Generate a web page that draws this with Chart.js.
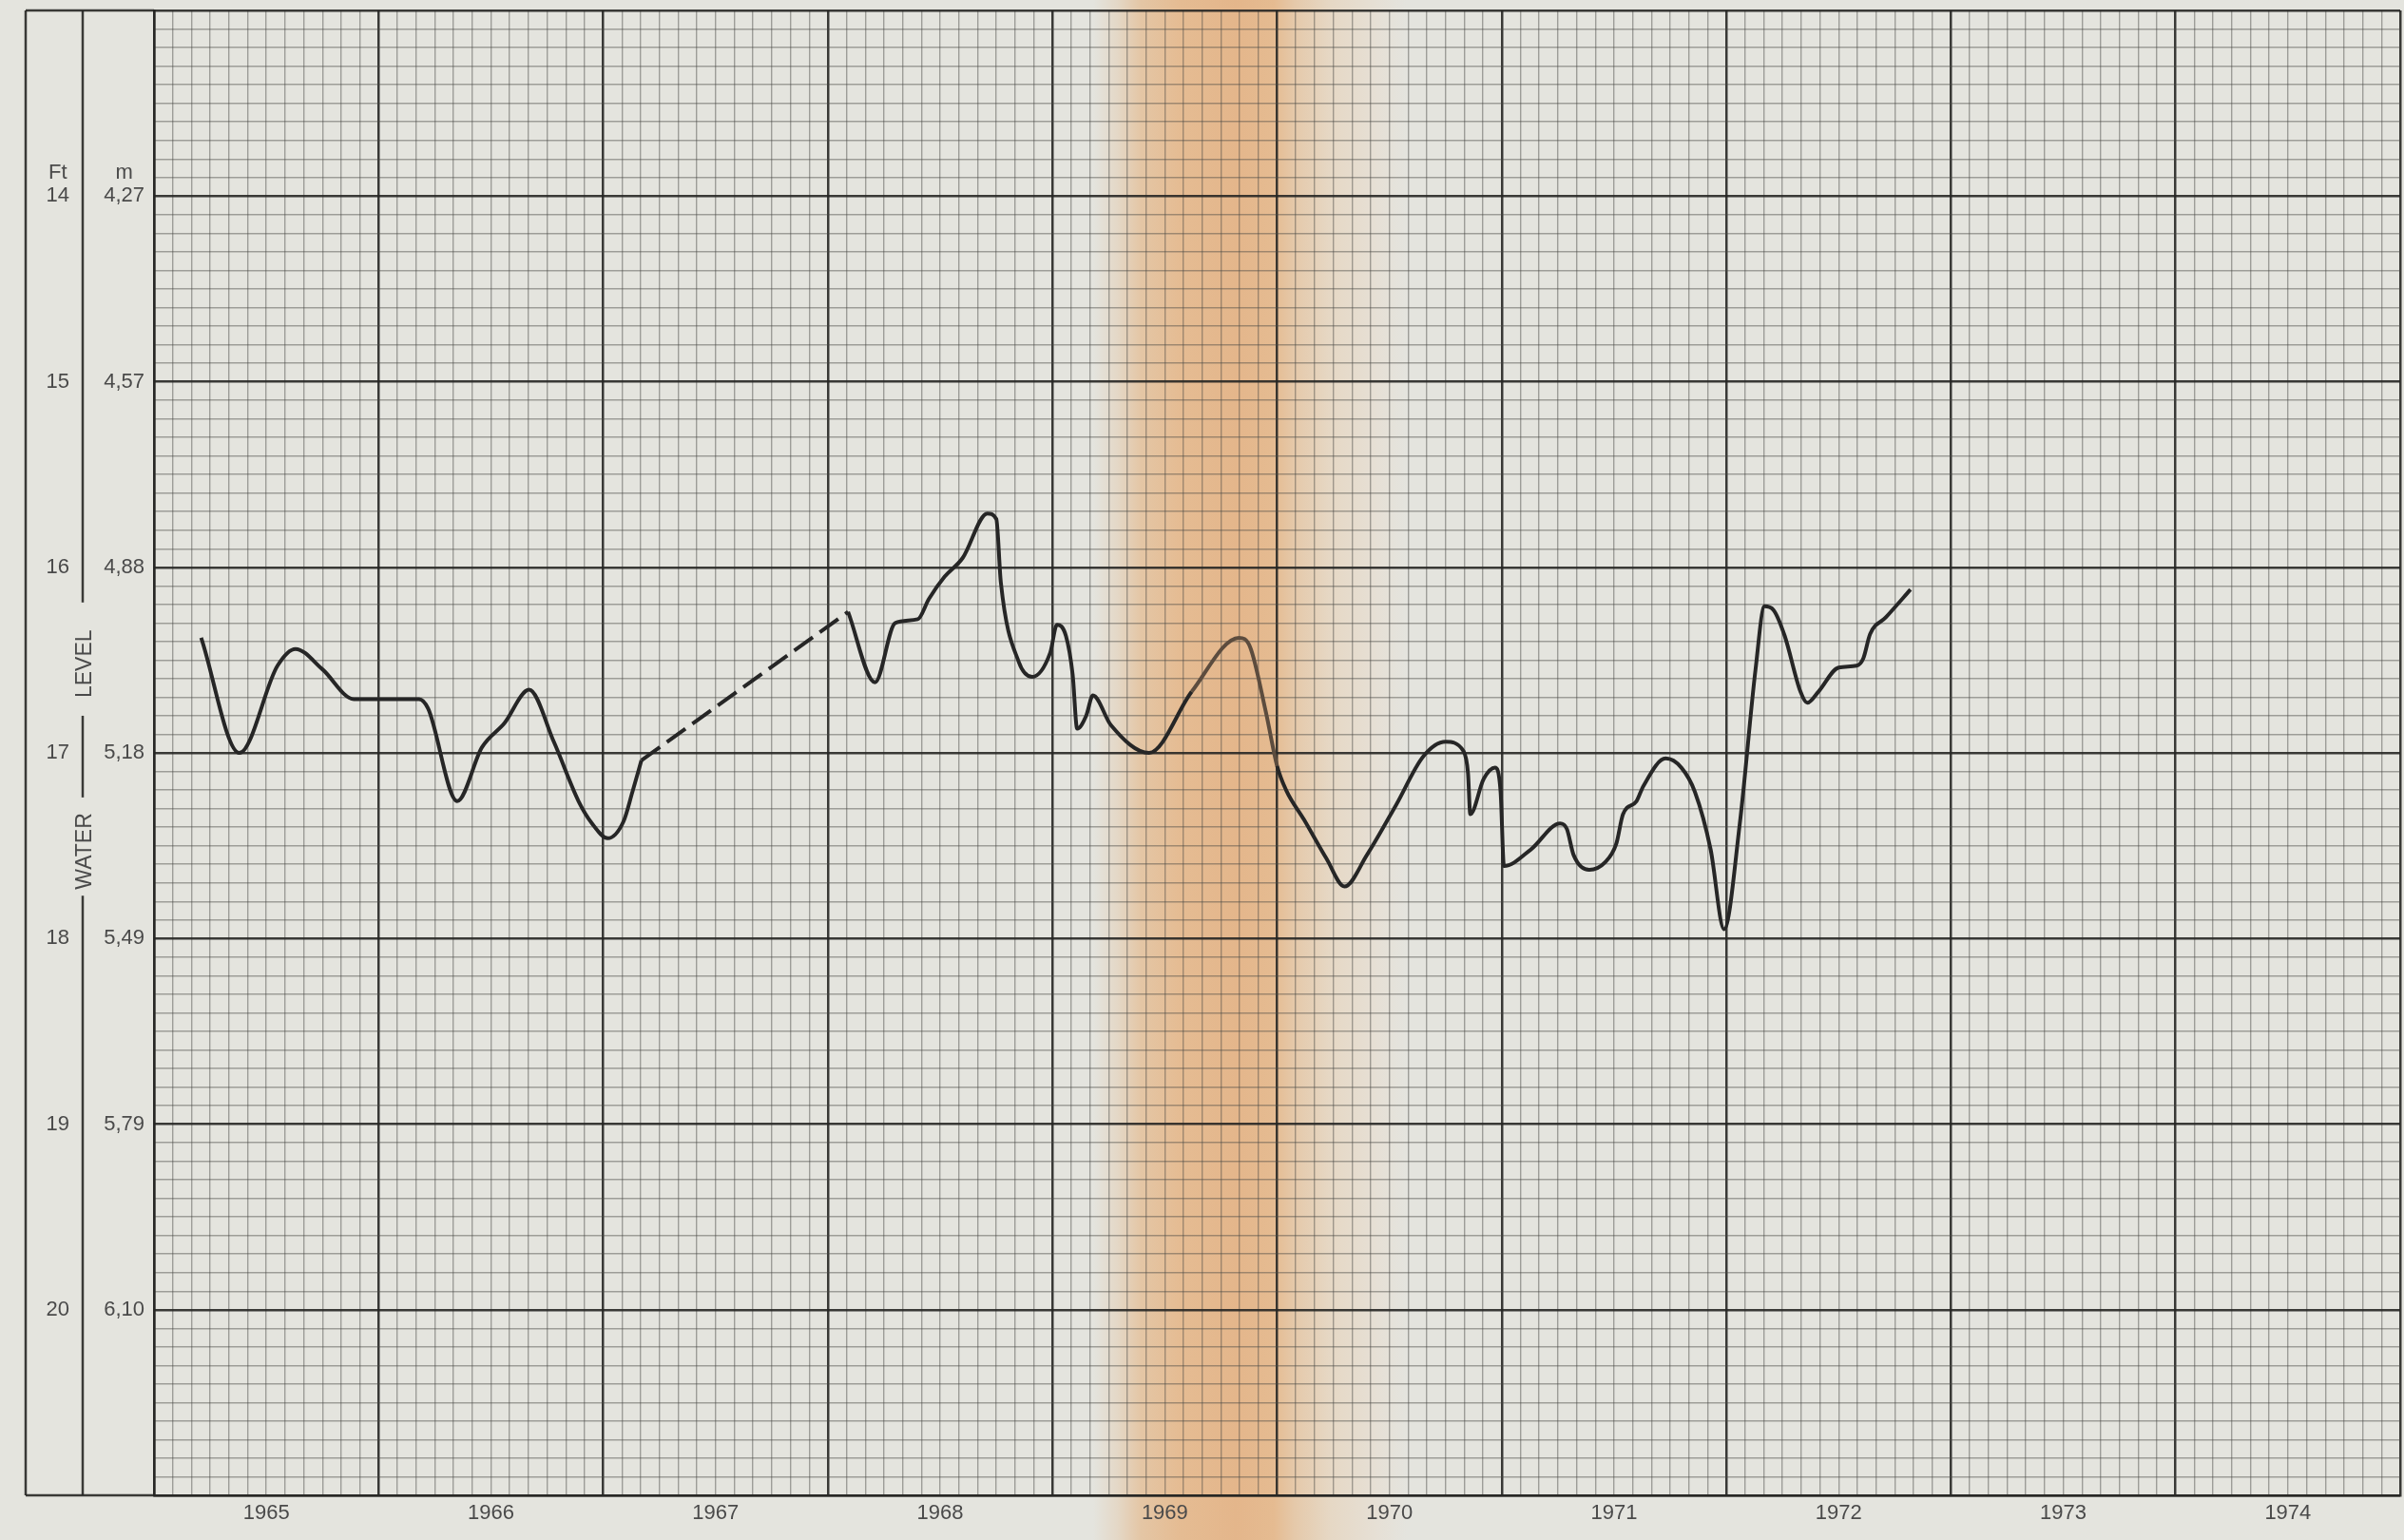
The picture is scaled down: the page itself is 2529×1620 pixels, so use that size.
<!DOCTYPE html>
<html>
<head>
<meta charset="utf-8">
<script src="https://cdn.jsdelivr.net/npm/chart.js@4.4.1/dist/chart.umd.min.js"></script>
<style>
  html, body { margin: 0; padding: 0; background: #e4e4de; }
  #wrap { width: 2529px; height: 1620px; }
  canvas {
    display: block;
    background: linear-gradient(to right,
      #e4e4de 0px, #e4e4de 1150px, #e4d8c7 1175px, #e4c6a5 1200px,
      #e5bc93 1240px, #e4b68b 1300px, #e5bb91 1340px, #e5c9aa 1362px,
      #e6d8c5 1400px, #e6e0d6 1450px, #e4e4de 1480px, #e4e4de 2529px);
  }
</style>
</head>
<body>
<div id="wrap"><canvas id="hydro" width="2529" height="1620"></canvas></div>
<script>
// year labels sit in the middle of each year band
const yearLabels = ["1965", "1966", "1967", "1968", "1969", "1970", "1971", "1972", "1973", "1974"];
// depth to water, feet (14..20) and the metric equivalents
const ftLabels = ["14", "15", "16", "17", "18", "19", "20"];
const mLabels = ["4,27", "4,57", "4,88", "5,18", "5,49", "5,79", "6,10"];

// measured record 1965-1967
const yearsA = [1965.21, 1965.38, 1965.55, 1965.63, 1965.75, 1965.89, 1966.18, 1966.22, 1966.35, 1966.46,
  1966.56, 1966.67, 1966.78, 1966.89, 1966.95, 1967.02, 1967.09, 1967.13, 1967.17];
const depthA = [16.38, 17.00, 16.53, 16.44, 16.55, 16.71, 16.71, 16.76, 17.26, 16.97,
  16.84, 16.66, 16.94, 17.26, 17.38, 17.46, 17.37, 17.21, 17.04];

// gap in the record (drawn dashed)
const yearsGap = [1967.17, 1968.09];
const depthGap = [17.04, 16.24];

// measured record 1968-1972
const yearsB = [1968.09, 1968.21, 1968.30, 1968.40, 1968.45, 1968.52, 1968.60, 1968.71, 1968.75, 1968.77,
  1968.85, 1968.91, 1968.99, 1969.02, 1969.06, 1969.09, 1969.11, 1969.15, 1969.18, 1969.26,
  1969.43, 1969.62, 1969.83, 1969.88, 1969.95, 1970.00, 1970.04, 1970.12, 1970.22, 1970.30,
  1970.40, 1970.53, 1970.65, 1970.75, 1970.83, 1970.85, 1970.86, 1970.92, 1970.97, 1970.995,
  1971.01, 1971.13, 1971.26, 1971.29, 1971.32, 1971.39, 1971.46, 1971.51, 1971.54, 1971.60,
  1971.63, 1971.73, 1971.80, 1971.86, 1971.93, 1971.99, 1972.06, 1972.13, 1972.17, 1972.21,
  1972.26, 1972.33, 1972.36, 1972.41, 1972.50, 1972.58, 1972.61, 1972.64, 1972.71, 1972.82];
const depthB = [16.24, 16.62, 16.30, 16.28, 16.17, 16.05, 15.95, 15.71, 15.74, 16.08,
  16.51, 16.59, 16.46, 16.31, 16.37, 16.58, 16.87, 16.80, 16.69, 16.85,
  17.00, 16.67, 16.38, 16.43, 16.78, 17.07, 17.20, 17.36, 17.57, 17.72,
  17.55, 17.28, 17.02, 16.94, 16.99, 17.11, 17.33, 17.14, 17.08, 17.21,
  17.61, 17.52, 17.38, 17.41, 17.55, 17.63, 17.59, 17.49, 17.33, 17.26,
  17.18, 17.03, 17.08, 17.21, 17.52, 17.95, 17.38, 16.55, 16.21, 16.23,
  16.37, 16.67, 16.73, 16.67, 16.54, 16.53, 16.49, 16.36, 16.27, 16.12];

const pts = (xs, ys) => xs.map((x, i) => ({ x: x, y: ys[i] }));

const minorGrid = "rgba(70,70,66,0.45)";
const majorGrid = "rgba(38,38,36,0.9)";
const inkColor = "#262626";
const textColor = "#4a4a4a";
const labelFont = { family: "'Liberation Sans', Arial, sans-serif", size: 22 };

const tenthTicks = scale => {
    scale.ticks = [];
    for (let k = 0; k <= 80; k++) scale.ticks.push({ value: 13 + k / 10 });
};
// empty end labels must not push the plot area inwards
const noEdgePadding = scale => {
    scale.paddingTop = 0;
    scale.paddingBottom = 0;
    scale.paddingLeft = 0;
    scale.paddingRight = 0;
};

// left panel: frame, divider with the rotated title, column heads
const panelPlugin = {
    id: "panel",
    afterDraw(chart) {
        const { ctx, chartArea } = chart;
        const ft = chart.scales.y;
        const yAt = v => ft.getPixelForValue(v);
        const seg = (x1, y1, x2, y2) => {
            ctx.beginPath(); ctx.moveTo(x1, y1); ctx.lineTo(x2, y2); ctx.stroke();
        };
        ctx.save();
        ctx.strokeStyle = majorGrid;
        ctx.lineWidth = 2.5;
        seg(ft.left, chartArea.top, ft.left, chartArea.bottom);
        seg(ft.left, chartArea.top, chartArea.left, chartArea.top);
        seg(ft.left, chartArea.bottom, chartArea.left, chartArea.bottom);

        const dx = ft.right;
        [[13, 16.19], [16.80, 17.24], [17.77, 21]].forEach(r => seg(dx, yAt(r[0]), dx, yAt(r[1])));

        ctx.fillStyle = textColor;
        ctx.font = "23px 'Liberation Sans', Arial, sans-serif";
        ctx.textAlign = "center";
        ctx.textBaseline = "middle";
        [["LEVEL", 16.52], ["WATER", 17.53]].forEach(t => {
            ctx.save();
            ctx.translate(dx + 3, yAt(t[1]));
            ctx.rotate(-Math.PI / 2);
            ctx.fillText(t[0], 0, 0);
            ctx.restore();
        });

        ctx.font = "22px 'Liberation Sans', Arial, sans-serif";
        const m = chart.scales.m;
        const ftCenter = ft.right - 14 - ctx.measureText("20").width / 2;
        const mCenter = m.right - 10 - ctx.measureText("4,27").width / 2;
        ctx.fillText("Ft", ftCenter, yAt(14) - 24);
        ctx.fillText("m", mCenter, yAt(14) - 24);
        ctx.restore();
    }
};

new Chart(document.getElementById("hydro"), {
    type: "line",
    data: {
        datasets: [
            {
                label: "measured",
                data: pts(yearsA, depthA),
                borderColor: inkColor,
                borderWidth: 4,
                pointRadius: 0,
                cubicInterpolationMode: "monotone"
            },
            {
                label: "no record",
                data: pts(yearsGap, depthGap),
                borderColor: inkColor,
                borderWidth: 4,
                borderDash: [24, 9],
                pointRadius: 0
            },
            {
                label: "measured",
                data: pts(yearsB, depthB),
                borderColor: inkColor,
                borderWidth: 4,
                pointRadius: 0,
                cubicInterpolationMode: "monotone",
                segment: {
                    // the trace looks paler where it runs through the page fold
                    borderColor: c => (c.p0.parsed.x > 1969.47 && c.p0.parsed.x < 1969.97) ? "#5c4c3e" : inkColor
                }
            }
        ]
    },
    options: {
        responsive: false,
        animation: false,
        devicePixelRatio: 1,
        layout: { padding: { left: 27, top: 11, right: 4, bottom: 0 } },
        plugins: { legend: { display: false }, tooltip: { enabled: false } },
        scales: {
            x: {
                type: "linear",
                min: 1965,
                max: 1975,
                afterBuildTicks: scale => {
                    scale.ticks = [];
                    for (let k = 0; k <= 120; k++) scale.ticks.push({ value: 1965 + k / 12 });
                },
                afterFit: scale => { scale.height = 47; noEdgePadding(scale); },
                grid: {
                    drawTicks: false,
                    color: c => c.index % 12 === 0 ? majorGrid : minorGrid,
                    lineWidth: c => c.index % 12 === 0 ? 2.5 : 1.4
                },
                border: { display: true, color: majorGrid, width: 2.5 },
                ticks: {
                    autoSkip: false,
                    maxRotation: 0,
                    padding: 6,
                    color: textColor,
                    font: labelFont,
                    callback: (v, i) => i % 12 === 6 ? yearLabels[(i - 6) / 12] : ""
                }
            },
            y: {
                type: "linear",
                position: "left",
                reverse: true,
                min: 13,
                max: 21,
                weight: 1,
                afterBuildTicks: tenthTicks,
                afterFit: scale => { scale.width = 60; noEdgePadding(scale); },
                grid: {
                    drawTicks: false,
                    color: c => c.index % 10 === 0 ? majorGrid : minorGrid,
                    lineWidth: c => c.index % 10 === 0 ? 2.5 : 1.4
                },
                border: { display: false },
                ticks: {
                    autoSkip: false,
                    crossAlign: "center",
                    padding: 14,
                    color: textColor,
                    font: labelFont,
                    callback: (v, i) => (i % 10 === 0 && i >= 10 && i <= 70) ? ftLabels[i / 10 - 1] : ""
                }
            },
            m: {
                type: "linear",
                position: "left",
                reverse: true,
                min: 13,
                max: 21,
                weight: 0,
                afterBuildTicks: tenthTicks,
                afterFit: scale => { scale.width = 75; noEdgePadding(scale); },
                grid: { display: false, drawTicks: false },
                border: { display: true, color: majorGrid, width: 2.5 },
                ticks: {
                    autoSkip: false,
                    crossAlign: "center",
                    padding: 10,
                    color: textColor,
                    font: labelFont,
                    callback: (v, i) => (i % 10 === 0 && i >= 10 && i <= 70) ? mLabels[i / 10 - 1] : ""
                }
            }
        }
    },
    plugins: [panelPlugin]
});
</script>
</body>
</html>
